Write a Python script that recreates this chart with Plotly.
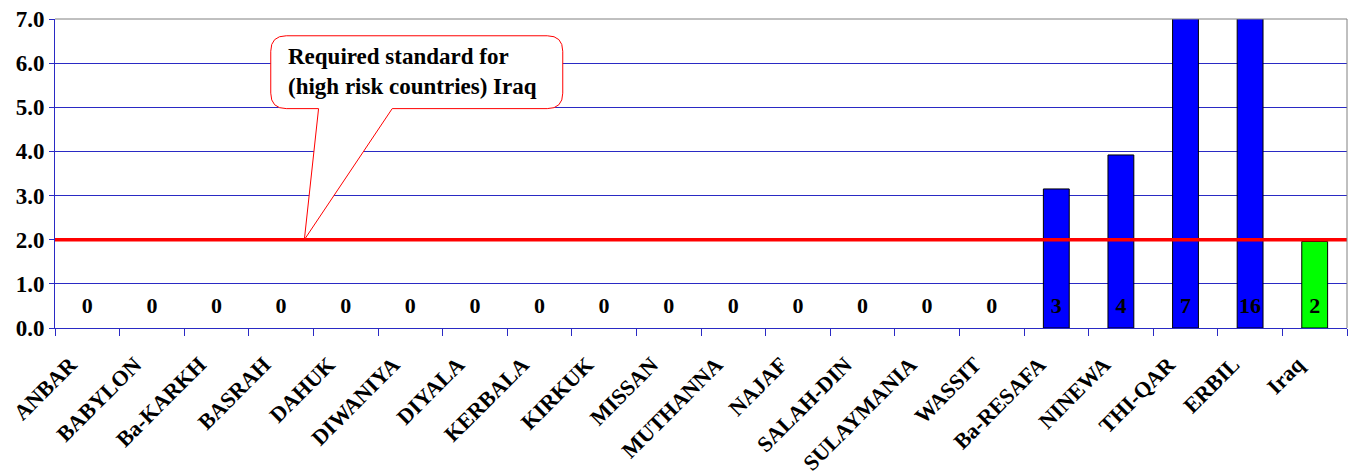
import plotly.graph_objects as go

categories = ["ANBAR", "BABYLON", "Ba-KARKH", "BASRAH", "DAHUK", "DIWANIYA", "DIYALA",
              "KERBALA", "KIRKUK", "MISSAN", "MUTHANNA", "NAJAF", "SALAH-DIN",
              "SULAYMANIA", "WASSIT", "Ba-RESAFA", "NINEWA", "THI-QAR", "ERBIL", "Iraq"]
values = [0, 0, 0, 0, 0, 0, 0, 0, 0, 0, 0, 0, 0, 0, 0, 3.15, 3.92, 7.6, 7.6, 1.96]
counts = ["0", "0", "0", "0", "0", "0", "0", "0", "0", "0", "0", "0", "0", "0", "0",
          "3", "4", "7", "16", "2"]
bar_colors = ["#0000FF"] * 19 + ["#00FF00"]
standard = 2.0
y_ticks = [0, 1, 2, 3, 4, 5, 6, 7]
y_tick_text = ["%.1f" % v for v in y_ticks]

FONT = "Liberation Serif, Times New Roman, serif"
BLUE = "#2a2ac4"

fig = go.Figure()
fig.add_trace(go.Bar(
    x=categories, y=values, width=0.4,
    marker=dict(color=bar_colors,
                line=dict(color="#000000", width=[0 if v == 0 else 1 for v in values])),
    showlegend=False, hoverinfo="x+y",
))
fig.add_trace(go.Scatter(
    x=categories, y=[0.47] * len(categories), mode="text", text=counts,
    textfont=dict(family=FONT, size=22, color="#000000", weight="bold"),
    showlegend=False, hoverinfo="skip", cliponaxis=False,
))

# red standard line
fig.add_shape(type="line", xref="paper", yref="y", x0=0, x1=1, y0=standard, y1=standard,
              line=dict(color="#FF0000", width=3.5), layer="above")

# border top & right (grey)
fig.add_shape(type="line", xref="paper", yref="paper", x0=0, x1=1, y0=1, y1=1,
              line=dict(color="#808080", width=1))
fig.add_shape(type="line", xref="paper", yref="paper", x0=1, x1=1, y0=0, y1=1,
              line=dict(color="#808080", width=1))

# callout
L, R, T, B = 0.167, 0.393, 6.62, 4.97
rx, ry = 0.012, 0.35
p1, p2, tipx = 0.204, 0.261, 0.193
path = (f"M {L+rx},{T} L {R-rx},{T} Q {R},{T} {R},{T-ry} L {R},{B+ry} Q {R},{B} {R-rx},{B} "
        f"L {p2},{B} L {tipx},{standard} L {p1},{B} "
        f"L {L+rx},{B} Q {L},{B} {L},{B+ry} L {L},{T-ry} Q {L},{T} {L+rx},{T} Z")
fig.add_shape(type="path", xref="paper", yref="y", path=path,
              line=dict(color="#FF0000", width=1), fillcolor="#FFFFFF", layer="above")
fig.add_annotation(xref="paper", yref="y", x=0.1785, y=5.8, xanchor="left", yanchor="middle",
                   align="left", showarrow=False,
                   text="Required standard for<br>(high risk countries) Iraq",
                   font=dict(family=FONT, size=23, color="#000000", weight="bold"))

fig.update_layout(
    width=1348, height=474,
    margin=dict(l=55, r=1, t=19, b=146),
    paper_bgcolor="#FFFFFF", plot_bgcolor="#FFFFFF",
    xaxis=dict(
        type="category", tickangle=-45, automargin=False,
        range=[-0.5, len(categories) - 0.5],
        tickfont=dict(family=FONT, size=22, color="#000000", weight="bold"),
        ticklabelshift=-17, ticklabelstandoff=14,
        showline=True, linecolor=BLUE, linewidth=1,
        ticks="outside", ticklen=7, tickcolor=BLUE, tickson="boundaries",
        showgrid=False, zeroline=False,
    ),
    yaxis=dict(
        range=[0, 7], tickvals=y_ticks, ticktext=y_tick_text, automargin=False,
        tickfont=dict(family=FONT, size=23, color="#000000", weight="bold"),
        showline=True, linecolor=BLUE, linewidth=1,
        ticks="outside", ticklen=5, tickcolor=BLUE,
        showgrid=True, gridcolor=BLUE, gridwidth=1, zeroline=False,
    ),
)

# remove the default 8px page margin so the figure sits at the window's top-left
fig.write_html("out.html", config={"displayModeBar": False},
               post_script="document.body.style.margin='0';")
